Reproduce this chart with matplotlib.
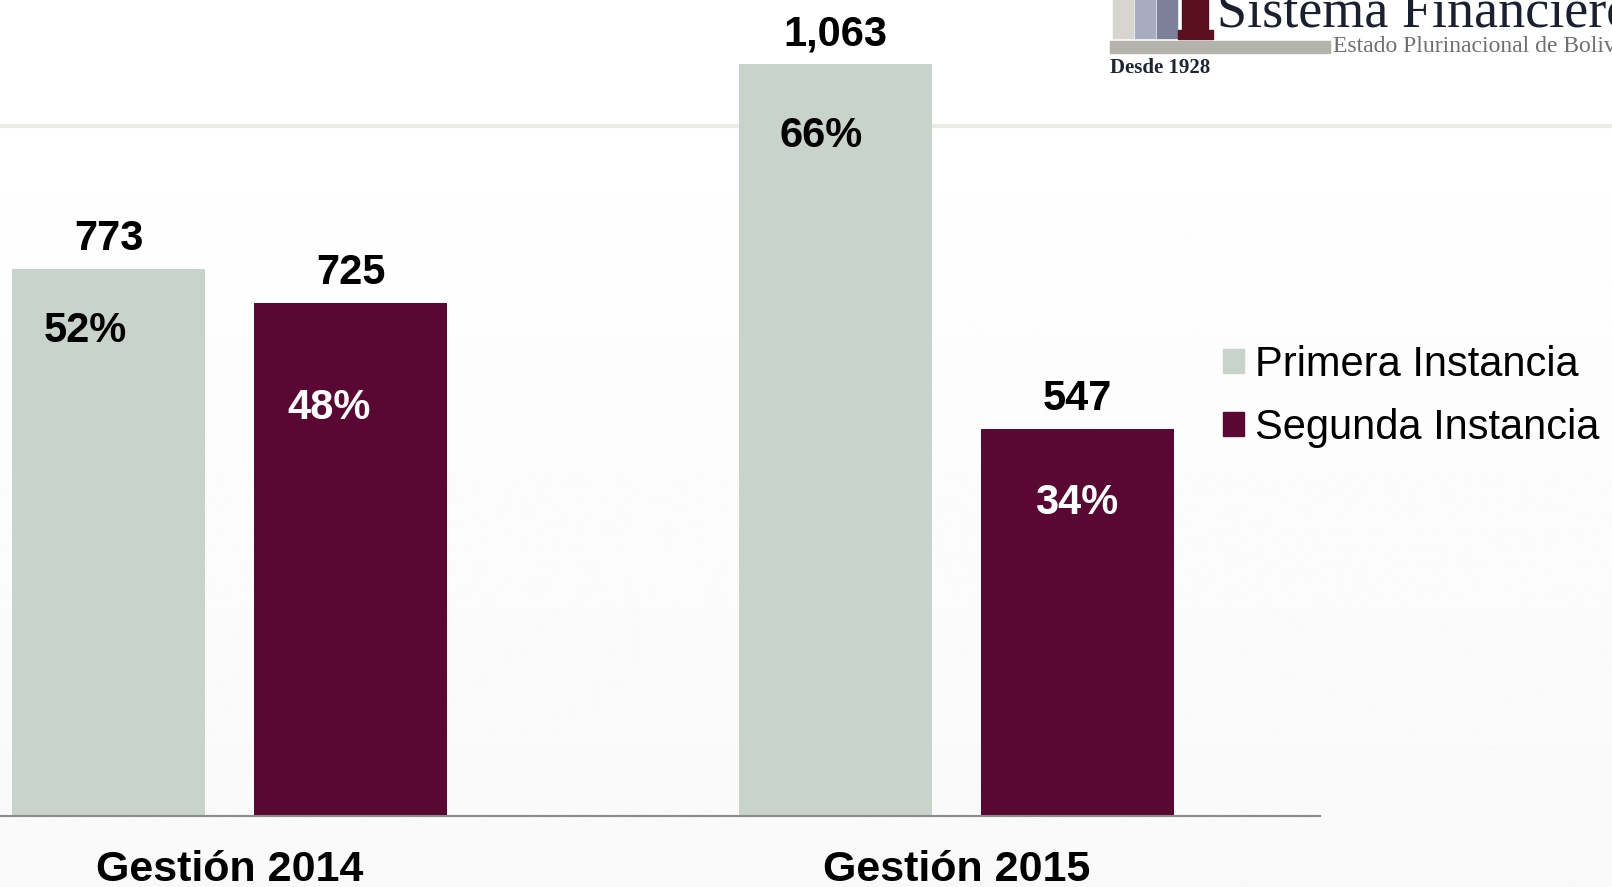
import numpy as np
import matplotlib
matplotlib.use("Agg")
import matplotlib.pyplot as plt
from matplotlib.patches import Patch, Rectangle
from matplotlib.lines import Line2D

# datos
years = ["Gestión 2014", "Gestión 2015"]
series = ["Primera Instancia", "Segunda Instancia"]
primera = [773, 1063]
segunda = [725, 547]
primera_pct = ["52%", "66%"]
segunda_pct = ["48%", "34%"]

LIGHT = "#C8D3CB"
DARK = "#5A0833"

plt.rcParams["font.family"] = ["Liberation Sans", "DejaVu Sans"]

W, H = 1612, 887
fig = plt.figure(figsize=(16.125, 8.875), dpi=100)


def fx(px):
    return px / W


def fy(py):
    return 1 - py / H


# fondo (diapositiva)
bg = fig.add_axes([0, 0, 1, 1], zorder=0)
bg.axis("off")
grad = np.ones((H, 1)) * 254.5
grad[130:, 0] = np.linspace(254.5, 249, H - 130)
bg.imshow(grad, cmap="gray", vmin=0, vmax=255, aspect="auto", extent=[0, 1, 0, 1])
fig.add_artist(Line2D([0, 1], [fy(126)] * 2, transform=fig.transFigure,
                      color="#ECECE6", lw=3, zorder=1))

# logo arriba a la derecha
for x0, x1, y1, col in [(1113, 1133, 38, "#D6D6CE"), (1135, 1155, 38, "#A9ABC3"),
                        (1157, 1177, 38, "#7D8099"), (1182, 1208, 38, "#5B1020"),
                        (1178, 1213, 39, "#5B1020")]:
    y0 = 0 if x1 != 1213 else 30
    fig.add_artist(Rectangle((fx(x0), fy(y1)), fx(x1 - x0), (y1 - y0) / H,
                             transform=fig.transFigure, color=col, zorder=1))
fig.add_artist(Rectangle((fx(1110), fy(53)), fx(220), 12 / H,
                         transform=fig.transFigure, color="#B4B4AC", zorder=1))
fig.text(fx(1217), fy(26), "Sistema Financiero", family="Liberation Serif",
         fontsize=39, color="#1A2030", va="baseline", zorder=1)
fig.text(fx(1333), fy(52), "Estado Plurinacional de Bolivia", family="Liberation Serif",
         fontsize=17, color="#707070", va="baseline", zorder=1)
fig.text(fx(1110), fy(73), "Desde 1928", family="Liberation Serif", fontweight="bold",
         fontsize=15, color="#1E2535", va="baseline", zorder=1)

# grafico
ax = fig.add_axes([0, fy(816), 1320 / W, 816 / H], zorder=2)
ax.patch.set_alpha(0)

x = np.arange(len(years))
w, off = 0.2663, 0.1665
b1 = ax.bar(x - off, primera, w, color=LIGHT)
b2 = ax.bar(x + off, segunda, w, color=DARK)

ax.set_xlim(-0.3158, 1.5005)
ax.set_ylim(0, 1153.5)
for s in ["top", "left", "right"]:
    ax.spines[s].set_visible(False)
ax.spines["bottom"].set_color("#8C8C8C")
ax.spines["bottom"].set_linewidth(1.5)
ax.set_yticks([])
ax.set_xticks(x, years, fontsize=31, fontweight="bold")
ax.tick_params(axis="x", length=0, pad=24)

# etiquetas
pct_offsets = [[(-16.5, -52), (-10.4, -60)], [(-15.8, -83), (-1, -61)]]
pct_colors = ["black", "white"]
for k, (bars, vals, pcts) in enumerate([(b1, primera, primera_pct), (b2, segunda, segunda_pct)]):
    for i, (bar, v, p) in enumerate(zip(bars, vals, pcts)):
        cx = bar.get_x() + bar.get_width() / 2
        ax.annotate(f"{v:,}", (cx, v), xytext=(0, 13.7), textcoords="offset points",
                    ha="center", va="baseline", fontsize=30, fontweight="bold")
        ax.annotate(p, (cx, v), xytext=pct_offsets[k][i], textcoords="offset points",
                    ha="center", va="baseline", fontsize=30, fontweight="bold",
                    color=pct_colors[k])

handles = [Patch(color=LIGHT), Patch(color=DARK)]
fig.legend(handles, series, loc="upper left", bbox_to_anchor=(fx(1223), fy(345)),
           frameon=False, fontsize=30, handlelength=0.5, handleheight=0.5,
           handletextpad=0.27, labelspacing=0.55, borderpad=0, borderaxespad=0)

fig.savefig("out.png", dpi=100)
